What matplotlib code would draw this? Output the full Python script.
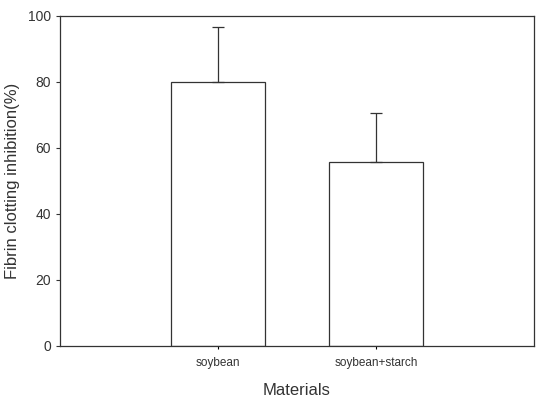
import matplotlib
matplotlib.use("Agg")
import matplotlib.pyplot as plt

categories = ["soybean", "soybean+starch"]
values = [80, 55.8]
errors = [16.7, 14.8]
yticks = [0, 20, 40, 60, 80, 100]

plt.rcParams['font.family'] = ['Liberation Sans', 'DejaVu Sans']
fig = plt.figure(figsize=(5.36, 3.99), dpi=100)
ax = fig.add_axes([0.112, 0.133, 0.884, 0.827])
x = list(range(len(categories)))
ax.bar(x, values, width=0.6, color='white', edgecolor='#333333', linewidth=0.9)
ax.errorbar(x, values, yerr=[[0]*len(errors), errors], fmt='none', ecolor='#333333',
            elinewidth=0.9, capsize=4, capthick=0.9)
ax.set_xlim(-1, 2)
ax.set_ylim(0, 100)
ax.set_yticks(yticks)
ax.set_xticks(x)
ax.set_xticklabels(categories, fontsize=8.5, color='#333333')
ax.tick_params(axis='y', labelsize=10, colors='#333333', length=3, width=0.8)
ax.tick_params(axis='x', length=2, width=0.8, pad=6)
for s in ax.spines.values():
    s.set_linewidth(0.9)
    s.set_color('#333333')
ax.set_xlabel("Materials", fontsize=12, color='#333333', labelpad=10)
ax.set_ylabel("Fibrin clotting inhibition(%)", fontsize=12, color='#333333', labelpad=6)
fig.savefig("out.png", dpi=100)
